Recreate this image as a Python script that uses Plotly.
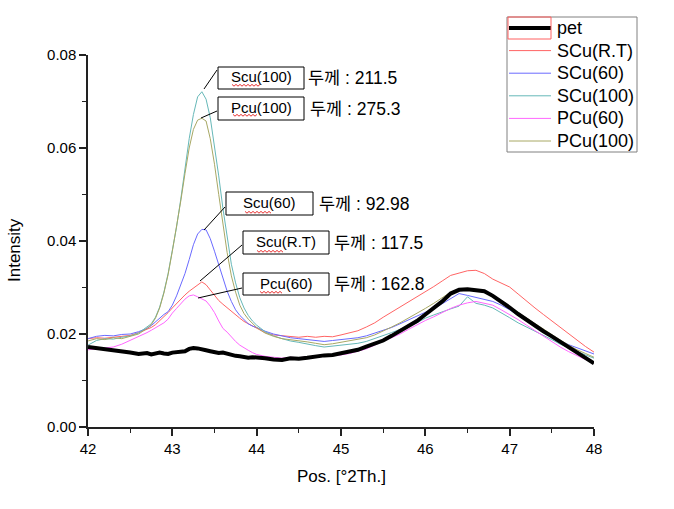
import plotly.graph_objects as go

# ---------------- data ----------------
pos = [42.0, 42.1, 42.2, 42.3, 42.4, 42.5, 42.6, 42.7,
       42.75, 42.8, 42.85, 42.9, 42.95, 43.0, 43.05, 43.1, 43.15, 43.2, 43.25, 43.3,
       43.35, 43.4, 43.45, 43.5, 43.55, 43.6, 43.65, 43.7, 43.75, 43.8, 43.85, 43.9, 43.95,
       44.0, 44.1, 44.2, 44.3, 44.4, 44.5, 44.6, 44.7, 44.8, 44.9,
       45.0, 45.1, 45.2, 45.3, 45.4, 45.5, 45.6, 45.7, 45.8, 45.9,
       46.0, 46.1, 46.2, 46.3, 46.4, 46.5, 46.6, 46.7, 46.8, 46.9,
       47.0, 47.1, 47.2, 47.3, 47.4, 47.5, 47.6, 47.7, 47.8, 47.9, 48.0]

pet = [.0172, .0170, .0168, .0166, .0163, .0160, .0157, .0159,
       .0156, .0158, .0160, .0158, .0157, .0160, .0161, .0160, .0163, .0168, .0170, .0169,
       .0166, .0165, .0163, .0161, .0159, .0160, .0157, .0155, .0153, .0152, .0150, .0149, .0150,
       .0150, .0148, .0145, .0144, .0148, .0147, .0149, .0152, .0154, .0155,
       .0158, .0162, .0166, .0173, .0180, .0186, .0196, .0206, .0218, .0228,
       .0242, .0255, .0270, .0287, .0295, .0296, .0293, .0292, .0282, .0270,
       .0257, .0243, .0230, .0218, .0206, .0195, .0183, .0172, .0160, .0149, .0137]

scu_rt = [.0190, .0192, .0191, .0193, .0195, .0197, .0203, .0210,
          .0214, .0220, .0228, .0236, .0246, .0256, .0266, .0276, .0284, .0292, .0299, .0306,
          .0312, .0306, .0294, .0282, .0272, .0264, .0256, .0248, .0241, .0234, .0227, .0222, .0217,
          .0212, .0203, .0198, .0196, .0194, .0193, .0195, .0193, .0195, .0194,
          .0198, .0202, .0207, .0215, .0224, .0236, .0247, .0258, .0268, .0279,
          .0291, .0302, .0314, .0326, .0331, .0336, .0337, .0330, .0318, .0310,
          .0301, .0286, .0270, .0256, .0242, .0228, .0214, .0200, .0187, .0173, .0161]

scu_60 = [.0190, .0195, .0197, .0196, .0199, .0200, .0205, .0212,
          .0218, .0226, .0236, .0242, .0248, .0262, .0282, .0305, .0330, .0360, .0392, .0415,
          .0425, .0424, .0405, .0378, .0350, .0322, .0292, .0270, .0252, .0240, .0230, .0222, .0217,
          .0214, .0206, .0200, .0196, .0192, .0190, .0188, .0186, .0184, .0186,
          .0188, .0190, .0192, .0196, .0202, .0208, .0214, .0222, .0230, .0238,
          .0246, .0255, .0265, .0276, .0287, .0283, .0279, .0275, .0270, .0262,
          .0252, .0240, .0228, .0216, .0205, .0195, .0185, .0177, .0170, .0163, .0157]

scu_100 = [.0176, .0186, .0190, .0189, .0193, .0196, .0202, .0215,
           .0222, .0236, .0258, .0290, .0330, .0380, .0430, .0490, .0555, .0620, .0672, .0710,
           .0721, .0705, .0665, .0605, .0540, .0470, .0405, .0350, .0310, .0278, .0256, .0240, .0228,
           .0219, .0205, .0196, .0190, .0185, .0182, .0178, .0175, .0172, .0174,
           .0175, .0178, .0180, .0184, .0190, .0196, .0203, .0210, .0218, .0224,
           .0234, .0241, .0248, .0254, .0260, .0280, .0266, .0262, .0256, .0246,
           .0235, .0224, .0215, .0206, .0198, .0188, .0178, .0170, .0162, .0155, .0148]

pcu_60 = [.0166, .0168, .0170, .0172, .0178, .0186, .0195, .0203,
          .0208, .0213, .0218, .0224, .0232, .0245, .0255, .0266, .0275, .0282, .0284, .0280,
          .0276, .0271, .0260, .0246, .0228, .0212, .0204, .0193, .0184, .0176, .0170, .0165, .0160,
          .0156, .0152, .0150, .0148, .0150, .0149, .0151, .0150, .0152, .0153,
          .0155, .0158, .0163, .0168, .0176, .0185, .0192, .0200, .0210, .0220,
          .0229, .0237, .0246, .0255, .0262, .0267, .0270, .0266, .0262, .0252,
          .0242, .0231, .0219, .0207, .0196, .0184, .0172, .0162, .0153, .0145, .0138]

pcu_100 = [.0185, .0190, .0188, .0192, .0190, .0195, .0200, .0212,
           .0220, .0234, .0256, .0288, .0328, .0378, .0428, .0486, .0545, .0600, .0640, .0660,
           .0664, .0658, .0620, .0565, .0500, .0435, .0375, .0325, .0290, .0262, .0244, .0232, .0222,
           .0214, .0202, .0195, .0190, .0188, .0186, .0183, .0180, .0177, .0179,
           .0182, .0185, .0189, .0192, .0198, .0206, .0215, .0224, .0234, .0244,
           .0255, .0266, .0278, .0290, .0296, .0295, .0294, .0290, .0282, .0270,
           .0258, .0246, .0234, .0222, .0210, .0198, .0187, .0176, .0166, .0158, .0150]

series_names = ["pet", "SCu(R.T)", "SCu(60)", "SCu(100)", "PCu(60)", "PCu(100)"]
series_vals = [pet, scu_rt, scu_60, scu_100, pcu_60, pcu_100]
series_colors = ["#000000", "#FF6464", "#6A6AFF", "#66B8B8", "#FF66FF", "#A8A864"]
series_widths = [4, 1, 1, 1, 1, 1]

callout_labels = ["Scu(100)", "Pcu(100)", "Scu(60)", "Scu(R.T)", "Pcu(60)"]
callout_texts = ["두께 : 211.5", "두께 : 275.3", "두께 : 92.98", "두께 : 117.5", "두께 : 162.8"]

x_title = "Pos. [°2Th.]"
y_title = "Intensity"

# ---------------- layout geometry (pixels) ----------------
W, H = 674, 509
L, R, T, B = 88, 80, 55, 82
PW, PH = W - L - R, H - T - B


def px(x):
    return (x - L) / PW


def py(y):
    return (H - B - y) / PH


FONT = "Liberation Sans, Arial, Noto Sans CJK KR, sans-serif"

fig = go.Figure()
draw_order = [1, 2, 3, 4, 5, 0]
for i in draw_order:
    fig.add_trace(go.Scatter(
        x=pos, y=series_vals[i], mode="lines", name=series_names[i],
        line=dict(color=series_colors[i], width=series_widths[i]),
        showlegend=False,
    ))

# callout boxes: (box left, box top, box right, box bottom, text x, line from, line to, squiggle x0, x1, y)
boxes = [
    (218, 67, 304, 89, 306, (204, 89), (217, 70), 232, 260, 85),
    (218, 97, 304, 120, 308, (201, 118), (217, 111), 233, 258, 115),
    (226, 192, 313, 215, 317, (204, 230), (225, 207), 245, 271, 212),
    (243, 231, 329, 254, 332, (200, 281), (242, 245), 257, 283, 251),
    (243, 273, 329, 295, 332, (198, 298), (242, 288), 260, 282, 292),
]

shapes = []
annotations = []


def squiggle(x0, x1, y):
    pts = []
    k = 0
    x = x0
    while x <= x1:
        yy = y + (1.2 if k % 2 else -0.6)
        pts.append(f"{px(x):.5f},{py(yy):.5f}")
        x += 2
        k += 1
    return "M " + " L ".join(pts)


for k, (x0, y0, x1, y1, tx, p0, p1, sx0, sx1, sy) in enumerate(boxes):
    shapes.append(dict(type="rect", xref="paper", yref="paper",
                       x0=px(x0), x1=px(x1), y0=py(y1), y1=py(y0),
                       line=dict(color="black", width=1), fillcolor="white", layer="above"))
    shapes.append(dict(type="line", xref="paper", yref="paper",
                       x0=px(p0[0]), y0=py(p0[1]), x1=px(p1[0]), y1=py(p1[1]),
                       line=dict(color="black", width=1), layer="above"))
    shapes.append(dict(type="path", xref="paper", yref="paper", path=squiggle(sx0, sx1, sy),
                       line=dict(color="#E83030", width=1), layer="above"))
    annotations.append(dict(xref="paper", yref="paper", x=px((x0 + x1) / 2), y=py((y0 + y1) / 2 - 1),
                            text=callout_labels[k], showarrow=False, xanchor="center", yanchor="middle",
                            font=dict(family=FONT, size=15, color="black")))
    annotations.append(dict(xref="paper", yref="paper", x=px(tx), y=py((y0 + y1) / 2),
                            text=callout_texts[k], showarrow=False, xanchor="left", yanchor="middle",
                            font=dict(family=FONT, size=17.5, color="black")))

# ---- legend drawn manually (box, line samples, labels) ----
LEG_X0, LEG_X1, LEG_Y0, LEG_Y1 = 507, 637, 17, 152
shapes.append(dict(type="rect", xref="paper", yref="paper",
                   x0=px(LEG_X0), x1=px(LEG_X1), y0=py(LEG_Y1), y1=py(LEG_Y0),
                   line=dict(color="#808080", width=1), fillcolor="white", layer="above"))
for i, name in enumerate(series_names):
    yy = 28 + i * 22.6
    shapes.append(dict(type="line", xref="paper", yref="paper",
                       x0=px(509), x1=px(551), y0=py(yy), y1=py(yy),
                       line=dict(color=series_colors[i], width=series_widths[i]), layer="above"))
    annotations.append(dict(xref="paper", yref="paper", x=px(555), y=py(yy),
                            text=name, showarrow=False, xanchor="left", yanchor="middle",
                            font=dict(family=FONT, size=18, color="black")))
# red selection rectangle around the 'pet' legend sample
shapes.append(dict(type="rect", xref="paper", yref="paper",
                   x0=px(508), x1=px(551), y0=py(39), y1=py(17),
                   line=dict(color="#FF6060", width=1), layer="above"))

# axis titles
annotations.append(dict(xref="paper", yref="paper", x=px(341), y=py(476), text=x_title,
                        showarrow=False, xanchor="center", yanchor="middle",
                        font=dict(family=FONT, size=17, color="black")))
annotations.append(dict(xref="paper", yref="paper", x=px(14), y=py(250), text=y_title,
                        showarrow=False, xanchor="center", yanchor="middle", textangle=-90,
                        font=dict(family=FONT, size=17, color="black")))

fig.update_layout(
    width=W, height=H,
    margin=dict(l=L, r=R, t=T, b=B, pad=0),
    paper_bgcolor="white", plot_bgcolor="white",
    font=dict(family=FONT, size=15, color="black"),
    showlegend=False,
    shapes=shapes,
    annotations=annotations,
    xaxis=dict(range=[42, 48], dtick=1, tick0=42, showgrid=False, zeroline=False,
               showline=True, linecolor="#222222", linewidth=1.5,
               ticks="outside", ticklen=7, tickwidth=1.5, tickcolor="#222222",
               minor=dict(dtick=0.5, ticks="outside", ticklen=4, tickwidth=1, tickcolor="#222222"),
               tickfont=dict(size=15)),
    yaxis=dict(range=[0, 0.08], dtick=0.02, tick0=0, tickformat=".2f", showgrid=False, zeroline=False,
               showline=True, linecolor="#222222", linewidth=1.5,
               ticks="outside", ticklen=7, tickwidth=1.5, tickcolor="#222222",
               minor=dict(dtick=0.01, ticks="outside", ticklen=4, tickwidth=1, tickcolor="#222222"),
               tickfont=dict(size=15)),
)

fig.write_html("out.html", config={"displayModeBar": False},
               post_script="document.body.style.margin='0';")
